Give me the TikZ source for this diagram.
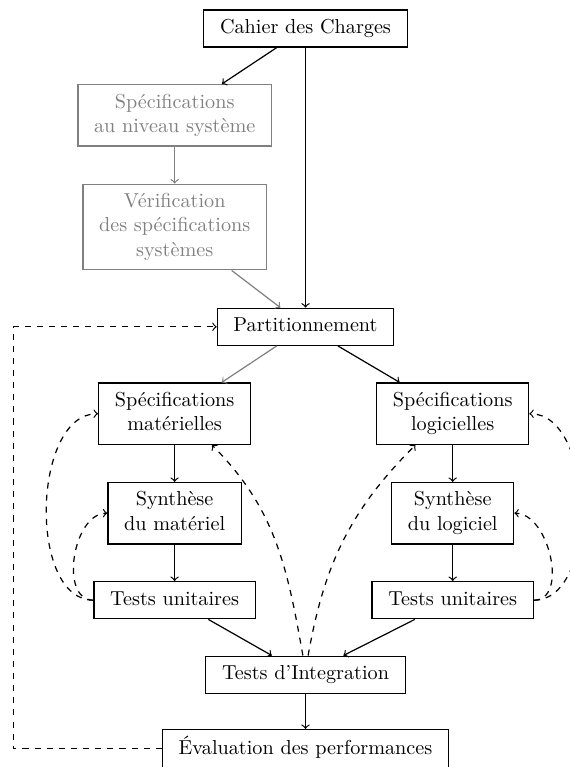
\documentclass[tikz,border=0pt]{standalone}
\begin{document}
\begin{tikzpicture}[x=0.495pt,y=0.495pt,semithick,
  box/.style={draw, align=center, inner xsep=8pt, inner ysep=3.2pt},
  dim/.style={draw=gray, text=gray},
  flow/.style={->},
  back/.style={->, dashed}]
\useasboundingbox (0,0) rectangle (569,-767);

% main chain
\node[box] (cdc) at (305.5,-28.5) {\strut Cahier des Charges};
\node[box,dim] (specsys) at (174.7,-115.3) {\strut Spécifications\\\strut au niveau système};
\node[box,dim] (verif) at (174.7,-227) {\strut Vérification\\\strut des spécifications\\\strut systèmes};
\node[box] (part) at (305.5,-326.8) {\strut Partitionnement};

% hardware branch
\node[box] (specmat) at (174.6,-413.7) {\strut Spécifications\\\strut matérielles};
\node[box] (synmat) at (174.6,-513.2) {\strut Synthèse\\\strut du matériel};
\node[box] (tuL) at (174.6,-600.2) {\strut Tests unitaires};

% software branch
\node[box] (speclog) at (452.7,-413.7) {\strut Spécifications\\\strut logicielles};
\node[box] (synlog) at (452.7,-513.2) {\strut Synthèse\\\strut du logiciel};
\node[box] (tuR) at (452.7,-600.2) {\strut Tests unitaires};

% integration
\node[box] (tint) at (305.5,-674.7) {\strut Tests d’Integration};
\node[box] (eval) at (305.5,-748.8) {\strut Évaluation des performances};

% forward flow
\draw[flow] (cdc) -- (specsys);
\draw[flow] (cdc) -- (part);
\draw[flow,gray] (specsys) -- (verif);
\draw[flow,gray] (verif) -- (part);
\draw[flow,gray] (part) -- (specmat);
\draw[flow] (part) -- (speclog);
\draw[flow] (specmat) -- (synmat);
\draw[flow] (synmat) -- (tuL);
\draw[flow] (speclog) -- (synlog);
\draw[flow] (synlog) -- (tuR);
\draw[flow] (tuL) -- (tint);
\draw[flow] (tuR) -- (tint);
\draw[flow] (tint) -- (eval);

% feedback loops
\coordinate (fb) at (13.4,-750);
\draw[back] (eval.west) -- (eval.west -| fb) |- (part.west);
\draw[back] (tuL.west) to[out=180,in=180] (synmat.west);
\draw[back] (tuL.west) to[out=180,in=180,looseness=0.9] (specmat.west);
\draw[back] (tuR.east) to[out=0,in=0] (synlog.east);
\draw[back] (tuR.east) to[out=0,in=0,looseness=0.9] (speclog.east);
\draw[back] ([xshift=-1.3pt]tint.north) to[out=100,in=-45] (specmat.-40);
\draw[back] ([xshift=1.3pt]tint.north) to[out=80,in=-135] (speclog.-140);
\end{tikzpicture}
\end{document}
